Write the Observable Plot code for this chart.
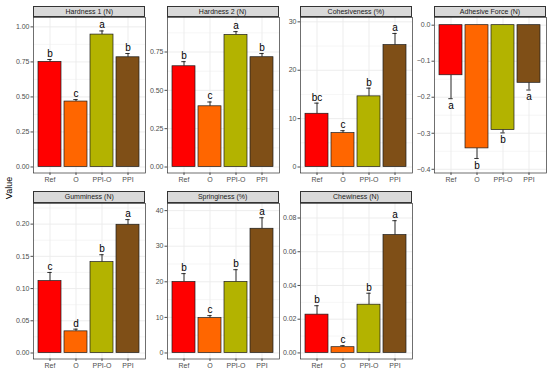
<!DOCTYPE html>
<html>
<head>
<meta charset="utf-8">
<script src="https://cdn.jsdelivr.net/npm/d3@7"></script>
<script src="https://cdn.jsdelivr.net/npm/@observablehq/plot@0.6"></script>
<style>
  html, body { margin: 0; padding: 0; background: #fff; }
  #chart { position: relative; width: 550px; height: 374px; background: #fff; font-family: "Liberation Sans", Arial, sans-serif; overflow: hidden; }
  .strip { position: absolute; box-sizing: border-box; background: #D9D9D9; border: 0.6px solid #333; color: #1A1A1A; font-size: 7px; text-align: center; }
  .ylab { position: absolute; font-size: 9px; color: #000; transform: rotate(-90deg); transform-origin: center center; white-space: nowrap; }
  svg { position: absolute; overflow: visible; }
</style>
</head>
<body>
<div id="chart"></div>
<script>
// ---- data ----
const categories = ["Ref", "O", "PPI-O", "PPI"];
const colors = ["#FF0000", "#FF6600", "#B3B300", "#7F4F17"];
const panelTitles = ["Hardness 1 (N)", "Hardness 2 (N)", "Cohesiveness (%)", "Adhesive Force (N)",
                     "Gumminess (N)", "Springiness (%)", "Chewiness (N)"];

const hardness1    = [0.750, 0.467, 0.945, 0.783];
const hardness1Sd  = [0.017, 0.014, 0.026, 0.027];
const hardness1Let = ["b", "c", "a", "b"];

const hardness2    = [0.657, 0.396, 0.861, 0.716];
const hardness2Sd  = [0.030, 0.028, 0.022, 0.024];
const hardness2Let = ["b", "c", "a", "b"];

const cohesiveness    = [11.0, 7.0, 14.6, 25.2];
const cohesivenessSd  = [2.2, 0.5, 1.7, 2.4];
const cohesivenessLet = ["bc", "c", "b", "a"];

const adhesive    = [-0.139, -0.342, -0.291, -0.160];
const adhesiveSd  = [0.065, 0.028, 0.008, 0.020];
const adhesiveLet = ["a", "b", "b", "a"];

const gumminess    = [0.1116, 0.0336, 0.141, 0.199];
const gumminessSd  = [0.0134, 0.0034, 0.0115, 0.008];
const gumminessLet = ["c", "d", "b", "a"];

const springiness    = [19.95, 9.8, 19.95, 34.9];
const springinessSd  = [2.35, 0.7, 3.45, 3.1];
const springinessLet = ["b", "c", "b", "a"];

const chewiness    = [0.0227, 0.0034, 0.0286, 0.0699];
const chewinessSd  = [0.0053, 0.0009, 0.0068, 0.0085];
const chewinessLet = ["b", "c", "b", "a"];

// y tick labels per panel
const ticks1 = [0, 0.25, 0.5, 0.75, 1.0];
const ticks2 = [0, 0.25, 0.5, 0.75];
const ticks3 = [0, 10, 20, 30];
const ticks4 = [0, -0.1, -0.2, -0.3, -0.4];
const ticks5 = [0, 0.05, 0.10, 0.15, 0.20];
const ticks6 = [0, 10, 20, 30, 40];
const ticks7 = [0, 0.02, 0.04, 0.06, 0.08];

// ---- panel config ----
const panels = [
  {v: hardness1, sd: hardness1Sd, lt: hardness1Let, ticks: ticks1, fmt: ".2f", domain: [-0.043, 1.067]},
  {v: hardness2, sd: hardness2Sd, lt: hardness2Let, ticks: ticks2, fmt: ".2f", domain: [-0.039, 0.975]},
  {v: cohesiveness, sd: cohesivenessSd, lt: cohesivenessLet, ticks: ticks3, fmt: "d", domain: [-1.24, 30.9]},
  {v: adhesive, sd: adhesiveSd, lt: adhesiveLet, ticks: ticks4, fmt: ".1f", domain: [-0.4103, 0.0213]},
  {v: gumminess, sd: gumminessSd, lt: gumminessLet, ticks: ticks5, fmt: ".2f", domain: [-0.0093, 0.232]},
  {v: springiness, sd: springinessSd, lt: springinessLet, ticks: ticks6, fmt: "d", domain: [-1.69, 42.0]},
  {v: chewiness, sd: chewinessSd, lt: chewinessLet, ticks: ticks7, fmt: ".2f", domain: [-0.0036, 0.0886]}
];

const colX = [33.3, 166.6, 300, 434];
const rowTop = [17.3, 202.7];
const PW = 112, PH = 155.5, STRIP = 11.5;
const ml = 32, mr = 1, mt = 1, mb = 16;

const chart = document.getElementById("chart");

function minorTicks(t, domain) {
  const s = t.slice().sort((a, b) => a - b);
  const step = s[1] - s[0];
  const out = [];
  for (let i = 0; i < s.length - 1; i++) out.push((s[i] + s[i + 1]) / 2);
  out.push(s[0] - step / 2, s[s.length - 1] + step / 2);
  const lo = Math.min(...domain), hi = Math.max(...domain);
  return out.filter(d => d >= lo && d <= hi);
}

panels.forEach((p, i) => {
  const col = i % 4, row = Math.floor(i / 4);
  const data = categories.map((c, k) => {
    const neg = p.v[k] < 0;
    return {cat: c, value: p.v[k], end: p.v[k] + (neg ? -p.sd[k] : p.sd[k]), letter: p.lt[k], neg};
  });
  const pos = data.filter(d => !d.neg), neg = data.filter(d => d.neg);
  const fmt = d3.format(p.fmt);

  const svg = Plot.plot({
    width: ml + PW + mr,
    height: mt + PH + mb,
    marginLeft: ml, marginRight: mr, marginTop: mt, marginBottom: mb,
    style: {background: "transparent", fontFamily: "Liberation Sans, Arial, sans-serif", fontSize: "7px", overflow: "visible"},
    x: {type: "band", domain: categories, paddingInner: 0.1, paddingOuter: 0.15, axis: null},
    y: {domain: p.domain, axis: null},
    color: {domain: categories, range: colors},
    marks: [
      Plot.ruleY(minorTicks(p.ticks, p.domain), {stroke: "#EBEBEB", strokeWidth: 0.45}),
      Plot.ruleY(p.ticks, {stroke: "#EBEBEB", strokeWidth: 0.9}),
      Plot.ruleX(categories, {x: d => d, stroke: "#EBEBEB", strokeWidth: 0.9}),
      Plot.ruleX(data, {x: "cat", y1: "value", y2: "end", stroke: "#1A1A1A", strokeWidth: 0.9}),
      Plot.tickY(data, {x: "cat", y: "end", stroke: "#1A1A1A", strokeWidth: 0.9, insetLeft: 9.3, insetRight: 9.3}),
      Plot.barY(data, {x: "cat", y: "value", fill: "cat", stroke: "#1A1A1A", strokeWidth: 0.7}),
      Plot.text(pos, {x: "cat", y: "end", text: "letter", lineAnchor: "bottom", dy: -2.5, fontSize: 10, fill: "#000"}),
      Plot.text(neg, {x: "cat", y: "end", text: "letter", lineAnchor: "top", dy: 3, fontSize: 10, fill: "#000"}),
      Plot.axisY(p.ticks, {tickFormat: fmt, tickSize: 2.5, tickPadding: 1.5, fontSize: 7, color: "#4D4D4D", label: null}),
      Plot.axisX({tickSize: 2.5, tickPadding: 1.5, fontSize: 7, color: "#4D4D4D", label: null}),
      Plot.frame({stroke: "#333", strokeWidth: 0.7})
    ]
  });
  svg.style.left = (colX[col] - ml) + "px";
  svg.style.top = (rowTop[row] - mt) + "px";
  chart.appendChild(svg);

  const strip = document.createElement("div");
  strip.className = "strip";
  strip.style.left = colX[col] + "px";
  strip.style.top = (rowTop[row] - STRIP) + "px";
  strip.style.width = PW + "px";
  strip.style.height = STRIP + "px";
  strip.style.lineHeight = (STRIP - 1) + "px";
  strip.textContent = panelTitles[i];
  chart.appendChild(strip);
});

const ylab = document.createElement("div");
ylab.className = "ylab";
ylab.textContent = "Value";
chart.appendChild(ylab);
const w = ylab.offsetWidth, h = ylab.offsetHeight;
ylab.style.left = (9 - w / 2) + "px";
ylab.style.top = (188 - h / 2) + "px";
</script>
</body>
</html>
